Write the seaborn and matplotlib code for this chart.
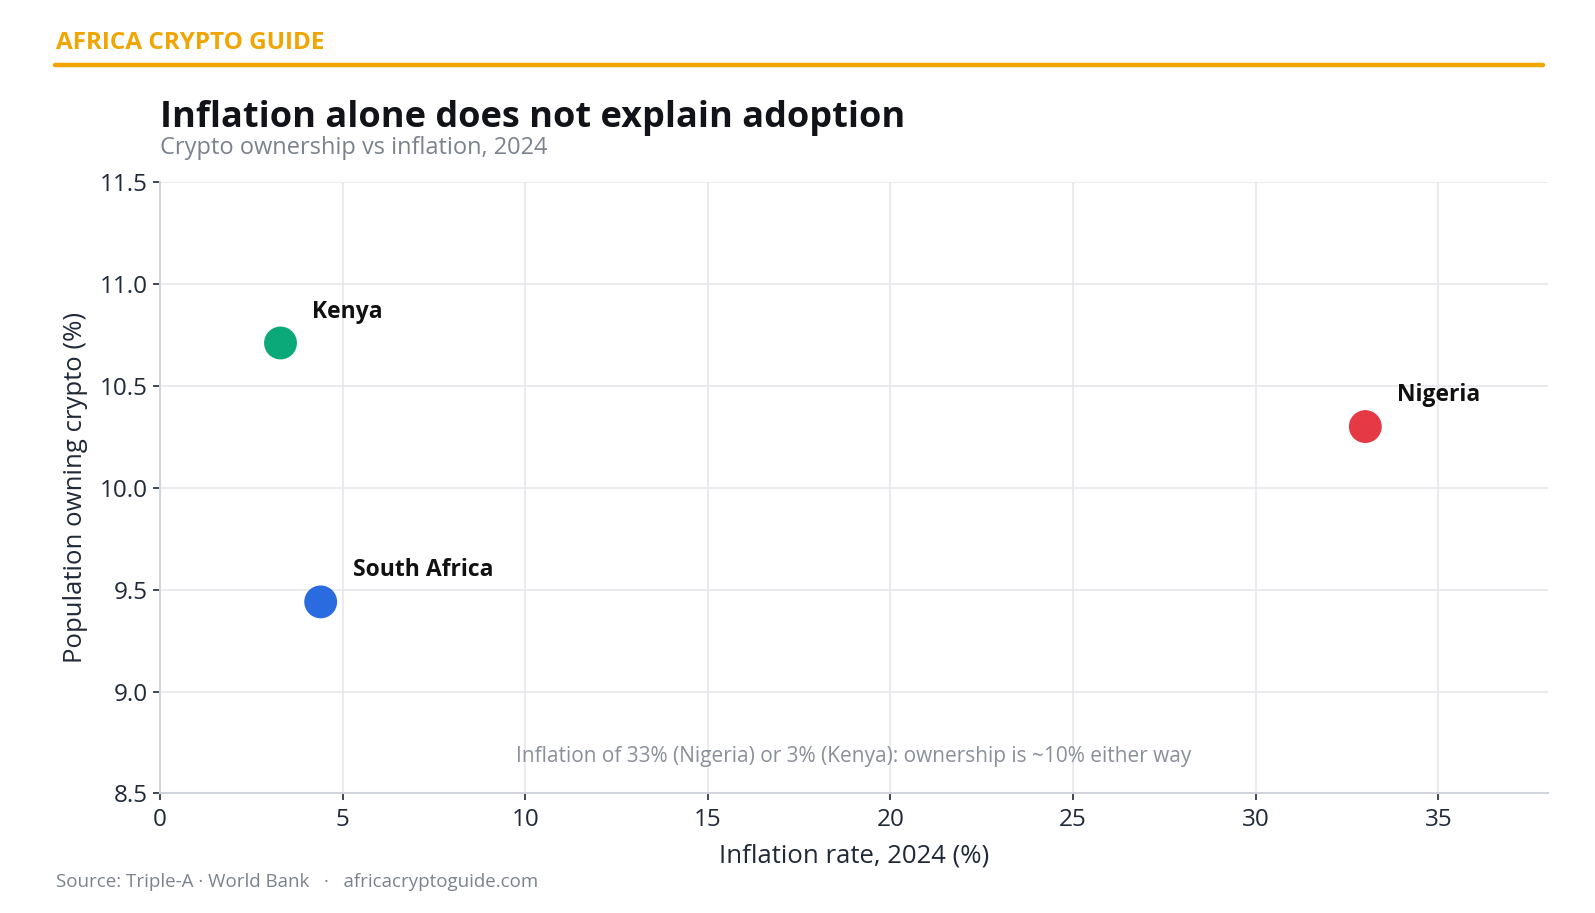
import matplotlib
matplotlib.use("Agg")
import matplotlib.pyplot as plt
import seaborn as sns
import pandas as pd

# Data
countries = ["Kenya", "South Africa", "Nigeria"]
inflation = [3.3, 4.4, 33.0]
ownership = [10.71, 9.44, 10.30]
colors = ["#0BA87A", "#2B6BE0", "#E63946"]

x_ticks = [0, 5, 10, 15, 20, 25, 30, 35]
y_ticks = [8.5, 9.0, 9.5, 10.0, 10.5, 11.0, 11.5]

df = pd.DataFrame({"country": countries, "inflation": inflation, "ownership": ownership})

sns.set_theme(style="white")
plt.rcParams["font.family"] = ["Open Sans", "DejaVu Sans"]

fig = plt.figure(figsize=(15.95, 9.13), dpi=100)
ax = fig.add_axes([0.1003, 0.1309, 0.8702, 0.6698])

sns.scatterplot(data=df, x="inflation", y="ownership", hue="country",
                palette=dict(zip(countries, colors)), s=560, edgecolor="none",
                legend=False, ax=ax, zorder=3)

for c, xv, yv in zip(countries, inflation, ownership):
    ax.annotate(c, (xv, yv), xytext=(23, 14), textcoords="offset points",
                fontsize=16.5, fontweight="bold", color="#111111", va="bottom")

ax.set_xlim(0, 38)
ax.set_ylim(8.5, 11.5)
ax.set_xticks(x_ticks)
ax.set_yticks(y_ticks)
ax.set_yticklabels([f"{v:.1f}" for v in y_ticks])
ax.grid(True, color="#E6E7EB", linewidth=1.2)
ax.set_axisbelow(True)
for s in ["top", "right"]:
    ax.spines[s].set_visible(False)
for s in ["left", "bottom"]:
    ax.spines[s].set_color("#D1D5DB")
    ax.spines[s].set_linewidth(1.5)
ax.tick_params(axis="both", labelsize=17.5, colors="#1F2937", length=5, width=1.2,
               left=True, bottom=True)
ax.tick_params(axis="x", pad=5.5)
ax.tick_params(axis="y", pad=4)

ax.set_xlabel("Inflation rate, 2024 (%)", fontsize=18.5, color="#1F2937", labelpad=8)
ax.set_ylabel("Population owning crypto (%)", fontsize=18.5, color="#1F2937", labelpad=8)

ax.text(0.5, 0.06, "Inflation of 33% (Nigeria) or 3% (Kenya): ownership is ~10% either way",
        transform=ax.transAxes, ha="center", va="center", fontsize=15, color="#8A8F99")

# Header and titles
fig.text(56 / 1595, 1 - 43 / 913, "AFRICA CRYPTO GUIDE", fontsize=17.5, fontweight="bold",
         color="#F0A500", va="center", ha="left")
fig.add_artist(plt.Line2D([55 / 1595, 1543 / 1595], [1 - 65 / 913, 1 - 65 / 913],
                          color="#F0A500", linewidth=3.2))
fig.text(160 / 1595, 1 - 118 / 913, "Inflation alone does not explain adoption",
         fontsize=26, fontweight="bold", color="#111318", va="center", ha="left")
fig.text(160 / 1595, 1 - 148 / 913, "Crypto ownership vs inflation, 2024",
         fontsize=17, color="#7C828D", va="center", ha="left")
fig.text(56 / 1595, 1 - 882 / 913, "Source: Triple-A \u00b7 World Bank   \u00b7   africacryptoguide.com",
         fontsize=13.5, color="#7C828D", va="center", ha="left")

fig.savefig("out.png", dpi=100, facecolor="white")
